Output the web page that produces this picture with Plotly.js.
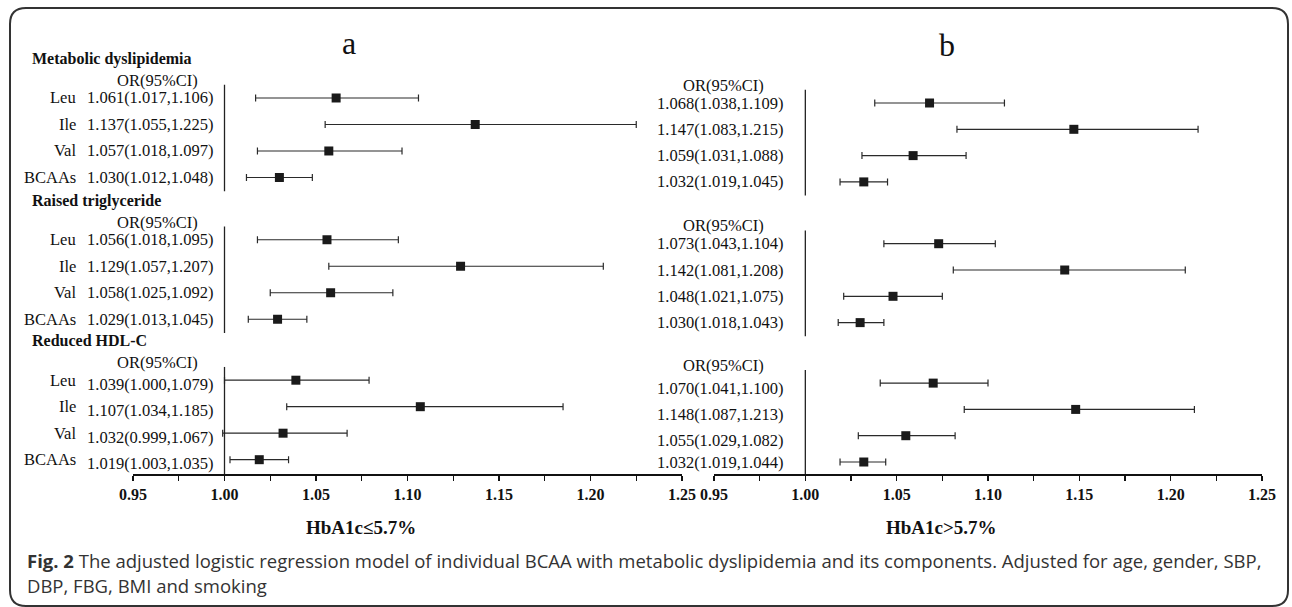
<!DOCTYPE html>
<html>
<head>
<meta charset="utf-8">
<script src="https://cdn.plot.ly/plotly-3.0.1.min.js"></script>
<style>html,body{margin:0;padding:0;background:#fff;}#chart{width:1292px;height:607px;}</style>
</head>
<body>
<div id="chart"></div>
<script>
// ---- data ----
const outcomes = ['Metabolic dyslipidemia', 'Raised triglyceride', 'Reduced HDL-C'];
const aminoAcids = ['Leu', 'Ile', 'Val', 'BCAAs'];
const panelLetters = ['a', 'b'];
const panelTitles = ['HbA1c≤5.7%', 'HbA1c>5.7%'];
const tickValues = [0.95, 1.00, 1.05, 1.10, 1.15, 1.20, 1.25];

// HbA1c <= 5.7% (panel a), order: outcome x amino acid
const orA   = [1.061, 1.137, 1.057, 1.030,  1.056, 1.129, 1.058, 1.029,  1.039, 1.107, 1.032, 1.019];
const loA   = [1.017, 1.055, 1.018, 1.012,  1.018, 1.057, 1.025, 1.013,  1.000, 1.034, 0.999, 1.003];
const hiA   = [1.106, 1.225, 1.097, 1.048,  1.095, 1.207, 1.092, 1.045,  1.079, 1.185, 1.067, 1.035];
// HbA1c > 5.7% (panel b)
const orB   = [1.068, 1.147, 1.059, 1.032,  1.073, 1.142, 1.048, 1.030,  1.070, 1.148, 1.055, 1.032];
const loB   = [1.038, 1.083, 1.031, 1.019,  1.043, 1.081, 1.021, 1.018,  1.041, 1.087, 1.029, 1.019];
const hiB   = [1.109, 1.215, 1.088, 1.045,  1.104, 1.208, 1.075, 1.043,  1.100, 1.213, 1.082, 1.044];

const caption1 = '<b>Fig. 2</b> The adjusted logistic regression model of individual BCAA with metabolic dyslipidemia and its components. Adjusted for age, gender, SBP,';
const caption2 = 'DBP, FBG, BMI and smoking';

// ---- layout helpers ----
const W = 1292, H = 607;
const px = v => v / W;
const py = v => 1 - v / H;
const sectionOffset = [0, 5.35, 10.65];
const rowY = [];
outcomes.forEach((o, s) => aminoAcids.forEach((a, r) => rowY.push(sectionOffset[s] + r)));

const serif = 'Liberation Serif, Times New Roman, serif';
const fmt = v => v.toFixed(3);

function forest(or, lo, hi, xa, ya) {
  return {
    type: 'scatter', mode: 'markers', x: or, y: rowY, xaxis: xa, yaxis: ya,
    marker: {symbol: 'square', size: 9, color: '#1a1a1a'},
    error_x: {type: 'data', symmetric: false,
      array: or.map((v, i) => hi[i] - v),
      arrayminus: or.map((v, i) => v - lo[i]),
      color: '#2a2a2a', thickness: 1.2, width: 3.5},
    hoverinfo: 'skip', showlegend: false, cliponaxis: false
  };
}

const data = [forest(orA, loA, hiA, 'x', 'y'), forest(orB, loB, hiB, 'x2', 'y2')];

const annotations = [];
const shapes = [];
const txt = (text, x, y, yref, opts) => Object.assign({
  text, x, y, xref: 'paper', yref, showarrow: false,
  font: {family: serif, size: 16.5, color: '#111'}, xanchor: 'right', yanchor: 'middle'
}, opts || {});

outcomes.forEach((o, s) => {
  const off = sectionOffset[s];
  annotations.push(txt(o, px(30), off - 1.48, 'y', {xanchor: 'left', font: {family: serif, size: 16, color: '#111', weight: 'bold'}}));
  annotations.push(txt('OR(95%CI)', px(157), off - 0.67, 'y', {xanchor: 'center'}));
  annotations.push(txt('OR(95%CI)', px(723), off - 0.68, 'y2', {xanchor: 'center'}));
  aminoAcids.forEach((a, r) => {
    const i = s * 4 + r;
    annotations.push(txt(a, px(78), rowY[i], 'y'));
    annotations.push(txt(fmt(orA[i]) + '(' + fmt(loA[i]) + ',' + fmt(hiA[i]) + ')', px(216), rowY[i], 'y', {yshift: s === 2 ? -4 : 0}));
    annotations.push(txt(fmt(orB[i]) + '(' + fmt(loB[i]) + ',' + fmt(hiB[i]) + ')', px(786), rowY[i], 'y2', {yshift: (s === 2 && r < 3) ? -5 : 0}));
  });
  // reference line at OR = 1
  shapes.push({type: 'line', xref: 'x', yref: 'y', x0: 1, x1: 1, y0: off - 0.5, y1: s === 2 ? 14.19 : off + 3.52, line: {color: '#222', width: 1.3}});
  shapes.push({type: 'line', xref: 'x2', yref: 'y2', x0: 1, x1: 1, y0: off - 0.5, y1: s === 2 ? 14.106 : off + 3.52, line: {color: '#222', width: 1.3}});
});

annotations.push(txt(panelLetters[0], px(349), py(43), 'paper', {xanchor: 'center', font: {family: serif, size: 32, color: '#111'}}));
annotations.push(txt(panelLetters[1], px(947), py(45), 'paper', {xanchor: 'center', font: {family: serif, size: 32, color: '#111'}}));
annotations.push(txt(panelTitles[0], px(361), py(527), 'paper', {xanchor: 'center', font: {family: serif, size: 19, color: '#111', weight: 'bold'}}));
annotations.push(txt(panelTitles[1], px(941), py(527), 'paper', {xanchor: 'center', font: {family: serif, size: 19, color: '#111', weight: 'bold'}}));
const capFont = {family: 'Open Sans, Noto Sans, sans-serif', size: 18.5, color: '#333'};
annotations.push(txt(caption1, px(25), py(560), 'paper', {xanchor: 'left', font: capFont}));
annotations.push(txt(caption2, px(25), py(585), 'paper', {xanchor: 'left', font: capFont}));

// rounded border
const L = 10, R = 1288, T = 8, B = 606, rad = 16;
const P = (x, y) => px(x) + ',' + py(y);
shapes.push({type: 'path', xref: 'paper', yref: 'paper', line: {color: '#333', width: 2},
  path: 'M' + P(L + rad, T) + ' L' + P(R - rad, T) + ' Q' + P(R, T) + ' ' + P(R, T + rad) +
        ' L' + P(R, B - rad) + ' Q' + P(R, B) + ' ' + P(R - rad, B) +
        ' L' + P(L + rad, B) + ' Q' + P(L, B) + ' ' + P(L, B - rad) +
        ' L' + P(L, T + rad) + ' Q' + P(L, T) + ' ' + P(L + rad, T) + ' Z'});

const xCommon = {
  range: [0.95, 1.25], tickvals: tickValues, ticktext: tickValues.map(v => v.toFixed(2)),
  ticks: 'outside', ticklen: 5, tickwidth: 1.2, tickcolor: '#111',
  minor: {tickvals: [0.975, 1.025, 1.075, 1.125, 1.175, 1.225], ticks: 'outside', ticklen: 5, tickwidth: 1.2, tickcolor: '#111'},
  showline: true, linecolor: '#111', linewidth: 1.5, showgrid: false, zeroline: false,
  tickfont: {family: serif, size: 16, color: '#111', weight: 'bold'}, fixedrange: true
};
const yDomain = [py(474), py(20)];
const layout = {
  width: W, height: H, margin: {l: 0, r: 0, t: 0, b: 0},
  paper_bgcolor: '#fff', plot_bgcolor: 'rgba(0,0,0,0)', showlegend: false,
  xaxis: Object.assign({}, xCommon, {domain: [px(133), px(682)], anchor: 'y'}),
  xaxis2: Object.assign({}, xCommon, {domain: [px(714), px(1262)], anchor: 'y2'}),
  yaxis: {domain: yDomain, range: [14.19, -2.943], visible: false, fixedrange: true, anchor: 'x'},
  yaxis2: {domain: yDomain, range: [14.106, -3.156], visible: false, fixedrange: true, anchor: 'x2'},
  annotations, shapes
};
Plotly.newPlot('chart', data, layout, {staticPlot: true, displayModeBar: false});
</script>
</body>
</html>
